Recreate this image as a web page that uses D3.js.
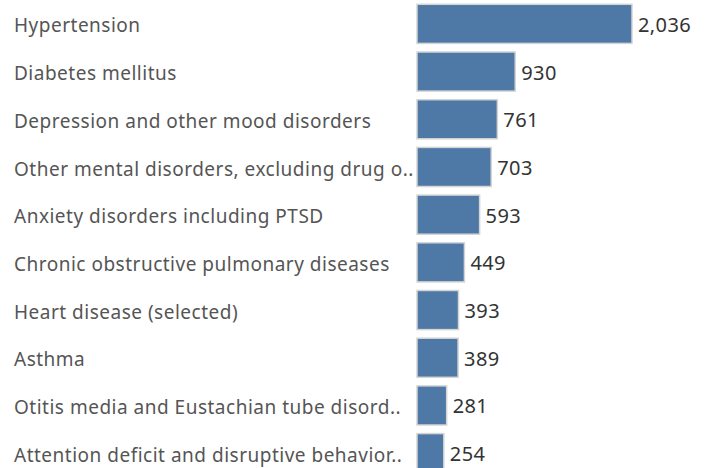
<!DOCTYPE html>
<html>
<head>
<meta charset="utf-8">
<script src="https://cdn.jsdelivr.net/npm/d3@7"></script>
<style>
  body { margin: 0; background: #fff; }
  svg { display: block; }
</style>
</head>
<body>
<div id="chart"></div>
<script>
var categories = [
    "Hypertension",
    "Diabetes mellitus",
    "Depression and other mood disorders",
    "Other mental disorders, excluding drug o..",
    "Anxiety disorders including PTSD",
    "Chronic obstructive pulmonary diseases",
    "Heart disease (selected)",
    "Asthma",
    "Otitis media and Eustachian tube disord..",
    "Attention deficit and disruptive behavior.."
];
var counts = [2036, 930, 761, 703, 593, 449, 393, 389, 281, 254];

var width = 710, height = 468;
var svg = d3.select("#chart").append("svg")
    .attr("width", width)
    .attr("height", height);

var x = d3.scaleLinear()
    .domain([0, 2036])
    .range([417, 632]);

var y = d3.scaleBand()
    .domain(categories)
    .range([0, 477])
    .paddingInner(0.18)
    .paddingOuter(0.09);

var rows = svg.selectAll(".row")
    .data(categories)
    .enter()
    .append("g")
    .attr("class", "row");

// category labels
rows.append("text")
    .attr("x", 14)
    .attr("y", function(d) { return y(d) + y.bandwidth() / 2; })
    .attr("dy", "0.45em")
    .attr("font-family", "Noto Sans")
    .attr("font-size", 19)
    .attr("letter-spacing", 0.5)
    .attr("fill", "#555")
    .text(function(d) { return d; });

// bars
rows.append("rect")
    .attr("x", x(0))
    .attr("y", function(d) { return y(d); })
    .attr("width", function(d, i) { return x(counts[i]) - x(0); })
    .attr("height", y.bandwidth())
    .attr("fill", "#4e79a7")
    .attr("stroke", "#d4d4d4")
    .attr("stroke-width", 1.5);

// value labels
rows.append("text")
    .attr("x", function(d, i) { return x(counts[i]) + 6; })
    .attr("y", function(d) { return y(d) + y.bandwidth() / 2; })
    .attr("dy", "0.4em")
    .attr("font-family", "Noto Sans")
    .attr("font-size", 20)
    .attr("letter-spacing", 0.4)
    .attr("fill", "#333")
    .text(function(d, i) { return d3.format(",")(counts[i]); });
</script>
</body>
</html>
